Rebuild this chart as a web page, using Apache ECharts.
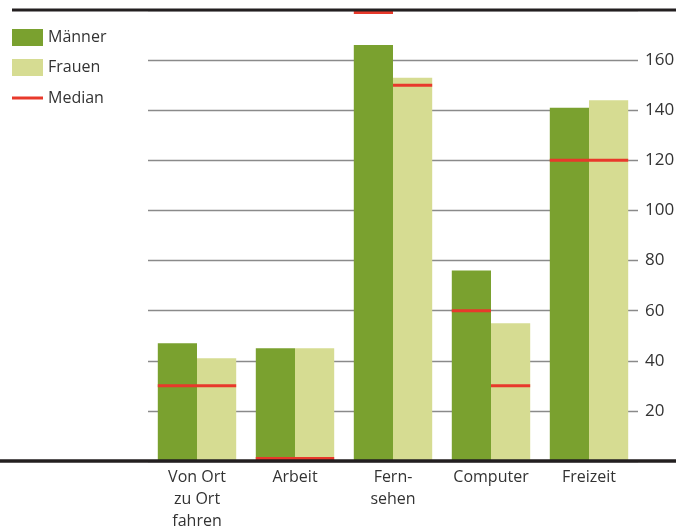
<!DOCTYPE html>
<html>
<head>
<meta charset="utf-8">
<script src="https://cdn.jsdelivr.net/npm/echarts@6/dist/echarts.min.js"></script>
<style>
  html, body { margin: 0; padding: 0; background: #fff; }
  #chart { width: 687px; height: 528px; }
</style>
</head>
<body>
<div id="chart"></div>
<script>
// Durchschnittliche Minuten pro Tag nach Tätigkeit
var categories = ['Von Ort\nzu Ort\nfahren', 'Arbeit', 'Fern-\nsehen', 'Computer', 'Freizeit'];
var maenner = [47, 45, 166, 76, 141];
var frauen = [41, 45, 153, 55, 144];
var medianMaenner = [30, 1, 179, 60, 120];
var medianFrauen = [30, 1, 150, 30, 120];
var yTicks = [20, 40, 60, 80, 100, 120, 140, 160];

var GREEN = '#7aa12f';
var LIGHT = '#d6dc92';
var RED = '#e8392b';
var DARK = '#231f20';
var FONT = '"Open Sans", "Noto Sans", sans-serif';
var CAT_GAP = 0.2;

// median markers: [category index, value, side (0 = Männer, 1 = Frauen)]
var medianData = [];
medianMaenner.forEach(function (v, i) { medianData.push([i, v, 0]); });
medianFrauen.forEach(function (v, i) { medianData.push([i, v, 1]); });

var chart = echarts.init(document.getElementById('chart'));

chart.setOption({
  animation: false,
  textStyle: { fontFamily: FONT },
  grid: { left: 148, right: 49, top: 10, bottom: 67, outerBoundsMode: 'none', containLabel: false },
  legend: [
    {
      data: [
        { name: 'Männer', icon: 'rect' },
        { name: 'Frauen', icon: 'rect' }
      ],
      orient: 'vertical',
      left: 12, top: 29, padding: 0,
      itemWidth: 31, itemHeight: 17, itemGap: 13,
      selectedMode: false,
      textStyle: { fontFamily: FONT, fontSize: 16, color: '#333' }
    },
    {
      data: [{ name: 'Median', icon: 'rect', itemStyle: { color: RED } }],
      orient: 'vertical',
      left: 12, top: 90, padding: 0,
      itemWidth: 31, itemHeight: 3,
      selectedMode: false,
      textStyle: { fontFamily: FONT, fontSize: 16, color: '#333' }
    }
  ],
  xAxis: {
    type: 'category',
    data: categories,
    axisLine: { show: false },
    axisTick: { show: false },
    axisLabel: {
      margin: 5,
      fontFamily: FONT, fontSize: 16, lineHeight: 22, color: '#333',
      interval: 0
    }
  },
  yAxis: {
    type: 'value',
    position: 'right',
    min: 0, max: 180, interval: 20,
    axisLine: { show: false },
    axisTick: { show: false },
    axisLabel: {
      margin: 7,
      fontFamily: FONT, fontSize: 17, color: '#333',
      formatter: function (v) { return yTicks.indexOf(v) >= 0 ? String(v) : ''; }
    },
    splitLine: { lineStyle: { color: '#8a8a8a', width: 1.4 } }
  },
  series: [
    {
      name: 'Männer', type: 'bar', data: maenner,
      barGap: '0%', barCategoryGap: (CAT_GAP * 100) + '%',
      itemStyle: { color: GREEN }
    },
    {
      name: 'Frauen', type: 'bar', data: frauen,
      barGap: '0%', barCategoryGap: (CAT_GAP * 100) + '%',
      itemStyle: { color: LIGHT }
    },
    {
      name: 'Median', type: 'custom', data: medianData,
      encode: { x: 0, y: 1 },
      itemStyle: { color: RED },
      z: 5,
      renderItem: function (params, api) {
        var p = api.coord([api.value(0), api.value(1)]);
        var band = api.size([1, 0])[0];
        var w = band * (1 - CAT_GAP) / 2;
        var x0 = api.value(2) === 0 ? p[0] - w : p[0];
        return {
          type: 'rect',
          shape: { x: x0, y: p[1] - 1.5, width: w, height: 3 },
          style: { fill: RED }
        };
      }
    }
  ]
});

// heavy rules at the top (180) and the baseline (0), wider than the plot area
var yTop = chart.convertToPixel({ yAxisIndex: 0 }, 180);
var yBase = chart.convertToPixel({ yAxisIndex: 0 }, 0);
chart.setOption({
  graphic: [
    { type: 'line', z: 10, shape: { x1: 12, y1: yTop, x2: 676, y2: yTop },
      style: { stroke: DARK, lineWidth: 3 } },
    { type: 'line', z: 10, shape: { x1: 0, y1: yBase, x2: 676, y2: yBase },
      style: { stroke: DARK, lineWidth: 3.5 } }
  ]
});
</script>
</body>
</html>
